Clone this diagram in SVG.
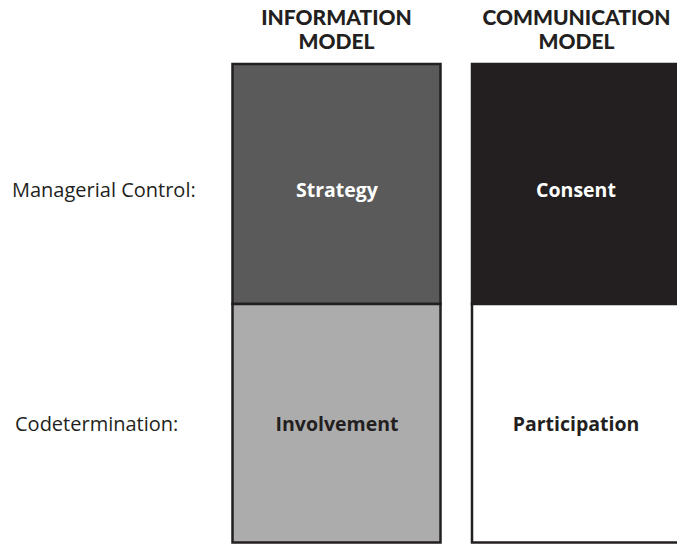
<svg xmlns="http://www.w3.org/2000/svg" width="677" height="544" viewBox="0 0 677 544">
<style>
.hdr{font-family:"Lato","Open Sans",sans-serif;font-weight:900;font-size:21px;fill:#231f20;text-anchor:middle}
.lbl{font-family:"Open Sans","Noto Sans",sans-serif;font-weight:700;font-size:19.5px;text-anchor:middle}
.side{font-family:"Open Sans","Noto Sans",sans-serif;font-weight:400;font-size:20px;fill:#231f20}
.box{stroke:#231f20;stroke-width:2.5}
</style>
<rect width="677" height="544" fill="#ffffff"/>
<g id="header-information">
<text class="hdr" x="336.5" y="24.5">INFORMATION</text>
<text class="hdr" x="336.5" y="48.5">MODEL</text>
</g>
<g id="header-communication">
<text class="hdr" x="576.5" y="24.5">COMMUNICATION</text>
<text class="hdr" x="576.5" y="48.5">MODEL</text>
</g>
<g id="row-managerial">
<text class="side" x="12" y="197">Managerial Control:</text>
</g>
<g id="row-codetermination">
<text class="side" x="15" y="431">Codetermination:</text>
</g>
<g id="strategy">
<rect class="box" x="232.5" y="64" width="208" height="240" fill="#5a5a5a"/>
<text class="lbl" x="337" y="197" fill="#ffffff">Strategy</text>
</g>
<g id="involvement">
<rect class="box" x="232.5" y="304" width="208" height="238.5" fill="#acacac"/>
<text class="lbl" x="337" y="431" fill="#231f20">Involvement</text>
</g>
<g id="consent">
<rect class="box" x="472" y="64" width="220" height="240" fill="#231f20"/>
<text class="lbl" x="576" y="197" fill="#ffffff">Consent</text>
</g>
<g id="participation">
<rect class="box" x="472" y="304" width="220" height="238.5" fill="#ffffff"/>
<text class="lbl" x="576" y="431" fill="#231f20">Participation</text>
</g>
<g id="connectors"></g>
</svg>
